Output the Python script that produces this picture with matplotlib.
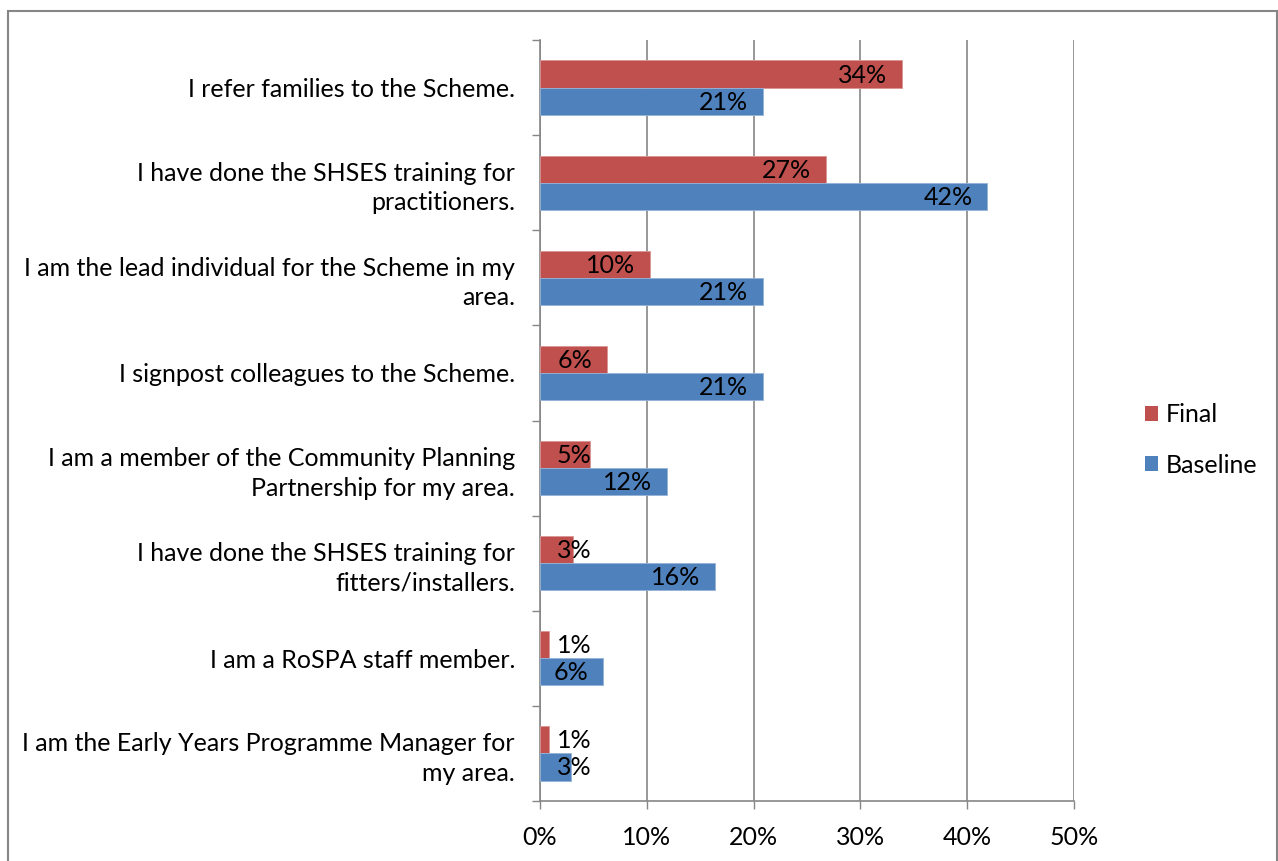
import matplotlib.pyplot as plt
from matplotlib.patches import Patch, Rectangle
import numpy as np

plt.rcParams['font.family'] = ['Lato', 'DejaVu Sans']

# survey statements, top to bottom
categories = [
    "I refer families to the Scheme.",
    "I have done the SHSES training for\npractitioners.",
    "I am the lead individual for the Scheme in my\narea.",
    "I signpost colleagues to the Scheme.",
    "I am a member of the Community Planning\nPartnership for my area.",
    "I have done the SHSES training for\nfitters/installers.",
    "I am a RoSPA staff member.",
    "I am the Early Years Programme Manager for\nmy area.",
]
final = [33.9, 26.8, 10.3, 6.3, 4.7, 3.1, 0.8, 0.8]
baseline = [20.9, 41.9, 20.9, 20.9, 11.9, 16.4, 5.9, 2.9]
xticks = [0, 10, 20, 30, 40, 50]

red = "#C0504D"
blue = "#4F81BD"
grey = "#868686"
fs = 18

fig = plt.figure(figsize=(12.78, 8.61), dpi=100)
ax = fig.add_axes([540 / 1278, 1 - 801 / 861, 534 / 1278, 761 / 861])

y = np.arange(len(categories))
h = 0.285
bf = ax.barh(y - h / 2, final, height=h, color=red, edgecolor="#D99694", linewidth=0.6, zorder=3)
bb = ax.barh(y + h / 2, baseline, height=h, color=blue, edgecolor="#95B3D7", linewidth=0.6, zorder=3)

# value labels at the inside end, pushed right of the axis when the bar is too short
for bars, vals in ((bf, final), (bb, baseline)):
    for bar, v in zip(bars, vals):
        yc = bar.get_y() + bar.get_height() / 2
        if v < 5.5:
            ax.annotate(f"{v:.0f}%", (0, yc), xytext=(17, -1), textcoords="offset pixels",
                        ha="left", va="center", fontsize=fs, zorder=4)
        else:
            ax.annotate(f"{v:.0f}%", (v, yc), xytext=(-15, -1), textcoords="offset pixels",
                        ha="right", va="center", fontsize=fs, zorder=4)

ax.set_xlim(0, 50)
ax.set_ylim(len(categories) - 0.5, -0.5)
ax.set_xticks(xticks)
ax.set_xticklabels([f"{t}%" for t in xticks], fontsize=fs)
ax.set_yticks(np.arange(-0.5, len(categories)))
ax.set_yticklabels([])
ax.set_yticks(y, minor=True)
ax.set_yticklabels(categories, minor=True, fontsize=fs, ha="right", linespacing=1.35)
ax.tick_params(axis="y", which="minor", length=0, pad=18)
ax.tick_params(axis="both", which="major", length=6, width=1, color=grey, direction="out")
ax.tick_params(axis="x", pad=12)

ax.grid(axis="x", color=grey, linewidth=1.2, zorder=0)
for side in ("top", "right"):
    ax.spines[side].set_visible(False)
for side in ("left", "bottom"):
    ax.spines[side].set_color(grey)
    ax.spines[side].set_linewidth(1.2)

handles = [Patch(facecolor=red), Patch(facecolor=blue)]
fig.legend(handles, ["Final", "Baseline"], loc="center left",
           bbox_to_anchor=(1122 / 1278, 1 - 440 / 861), frameon=False, fontsize=fs,
           handlelength=0.55, handleheight=0.55, handletextpad=0.3, labelspacing=1.1)

# chart area border
fig.patches.append(Rectangle((8 / 1278, -0.1), 1269 / 1278, 1.1 - 11 / 861,
                             transform=fig.transFigure, fill=False, edgecolor=grey, linewidth=1.5))

fig.savefig("out.png", dpi=100, facecolor="white")
